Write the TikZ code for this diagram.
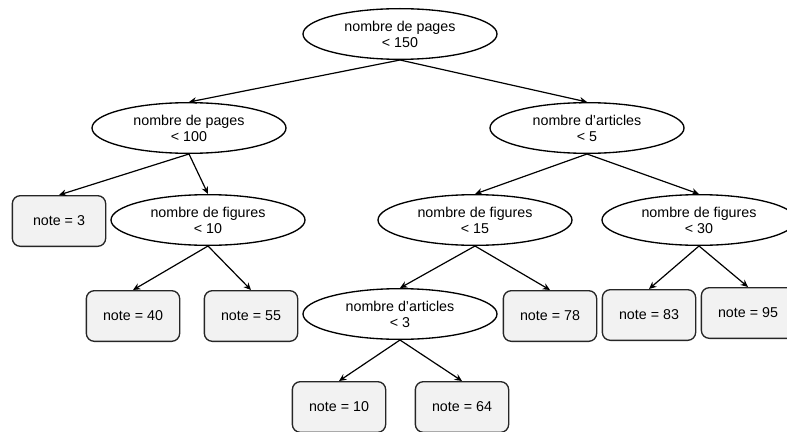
\documentclass[tikz,border=0pt]{standalone}
\usepackage{fontspec}
\setmainfont{Liberation Sans}
\usepackage{tikz}
\usetikzlibrary{shapes.geometric,arrows.meta}
\definecolor{leafgray}{HTML}{F2F2F2}

\begin{document}
\begin{tikzpicture}[x=0.75pt,y=-0.75pt,
	cond/.style={shape=ellipse,draw=black,line width=1pt,minimum width=145.5pt,minimum height=38pt,inner sep=0pt,align=center,font=\fontsize{10.7}{12}\selectfont},
	leaf/.style={shape=rectangle,rounded corners=6pt,draw=black!85,fill=leafgray,line width=1pt,minimum width=70pt,minimum height=38pt,inner sep=0pt,font=\fontsize{10.7}{12}\selectfont},
	branch/.style={-{Stealth[length=5.5pt,width=5pt]},line width=0.9pt}]
	
	\useasboundingbox (0,0) rectangle (787,431);
	
	\node[cond] (pages150) at (400, 34)    {nombre de pages\\< 150};
	\node[cond] (pages100) at (189, 128)   {nombre de pages\\< 100};
	\node[cond] (articles5) at (587, 128)  {nombre d'articles\\< 5};
	\node[cond] (figures10) at (208, 220)  {nombre de figures\\< 10};
	\node[cond] (figures15) at (475, 220)  {nombre de figures\\< 15};
	\node[cond] (figures30) at (699, 220)  {nombre de figures\\< 30};
	\node[cond] (articles3) at (400, 314)  {nombre d'articles\\< 3};
	
	\node[leaf] (note3) at (59, 221)    {note = 3};
	\node[leaf] (note40) at (133, 316)  {note = 40};
	\node[leaf] (note55) at (251, 316)  {note = 55};
	\node[leaf] (note78) at (550, 316)  {note = 78};
	\node[leaf] (note83) at (649, 315)  {note = 83};
	\node[leaf] (note95) at (748, 313)  {note = 95};
	\node[leaf] (note10) at (339, 407)  {note = 10};
	\node[leaf] (note64) at (462, 407)  {note = 64};
	
	\path[branch] (pages150.south) edge (pages100.north);
	\path[branch] (pages150.south) edge (articles5.north);
	\path[branch] (pages100.south) edge (note3.north);
	\path[branch] (pages100.south) edge (figures10.north);
	\path[branch] (figures10.south) edge (note40.north);
	\path[branch] (figures10.south) edge (note55.north);
	\path[branch] (articles5.south) edge (figures15.north);
	\path[branch] (articles5.south) edge (figures30.north);
	\path[branch] (figures15.south) edge (articles3.north);
	\path[branch] (figures15.south) edge (note78.north);
	\path[branch] (figures30.south) edge (note83.north);
	\path[branch] (figures30.south) edge (note95.north);
	\path[branch] (articles3.south) edge (note10.north);
	\path[branch] (articles3.south) edge (note64.north);

\end{tikzpicture}
\end{document}
